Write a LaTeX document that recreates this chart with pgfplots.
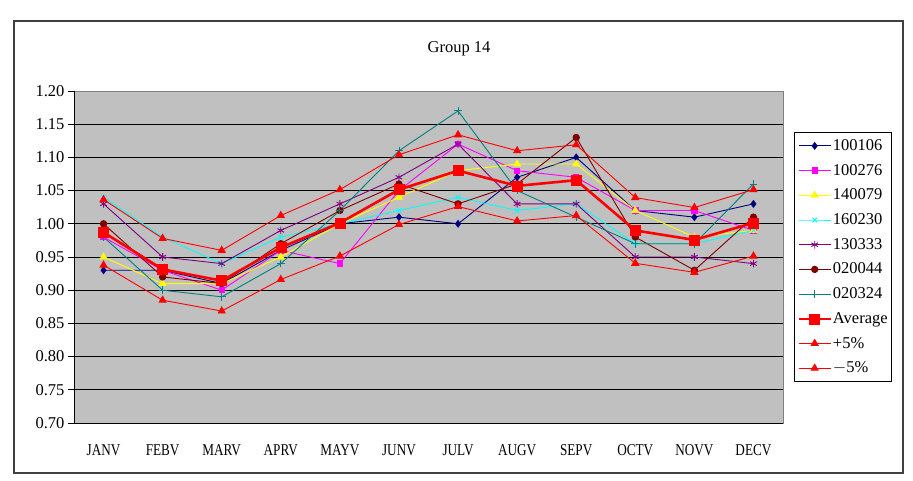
\documentclass[border=0pt]{standalone}
\usepackage{pgfplots}
\pgfplotsset{compat=1.18}
\usepackage{fontspec}
\setmainfont{Liberation Serif}
\definecolor{cnavy}{RGB}{0,0,128}
\definecolor{cmag}{RGB}{255,0,255}
\definecolor{cyel}{RGB}{255,255,0}
\definecolor{ccyan}{RGB}{0,255,255}
\definecolor{cpurple}{RGB}{128,0,128}
\definecolor{cdred}{RGB}{128,0,0}
\definecolor{cteal}{RGB}{0,128,128}
\definecolor{cred}{RGB}{255,0,0}
\definecolor{silverbg}{RGB}{192,192,192}
\newcommand{\cf}{\fontsize{16.5bp}{18bp}\selectfont}
\newcommand{\mo}[1]{\scalebox{0.8}[1]{#1}}
\begin{document}
\begin{tikzpicture}
\path[fill=white] (0,0) rectangle (913bp,481bp);
\draw[line width=1.2bp, black!75] (14bp,8bp) rectangle (903bp,460bp);
\node[font=\cf] at (459bp,432bp) {Group 14};
\begin{axis}[
  at={(74bp,58bp)}, anchor=south west,
  scale only axis, width=709bp, height=332bp,
  xmin=-0.5, xmax=11.5, ymin=0.70, ymax=1.20,
  axis background/.style={fill=silverbg},
  axis line style={draw=black!50, line width=0.8bp},
  ytick={0.70,0.75,...,1.21},
  ymajorgrids, major grid style={black, line width=0.8bp},
  ytick pos=left, tick align=outside,
  major tick length=6bp,
  yticklabel style={font=\cf, /pgf/number format/.cd, fixed, fixed zerofill, precision=2, assume math mode=true},
  xtick={0,...,11},
  xticklabels={\mo{JANV},\mo{FEBV},\mo{MARV},\mo{APRV},\mo{MAYV},\mo{JUNV},\mo{JULV},\mo{AUGV},\mo{SEPV},\mo{OCTV},\mo{NOVV},\mo{DECV}},
  xtick pos=bottom,
  x tick style={draw=none},
  xticklabel style={font=\cf, yshift=-12bp},
  minor xtick={-0.5,0.5,...,11.6},
  minor tick length=11bp,
  minor x tick style={black, line width=0.8bp, yshift=6bp},
  y tick style={black, line width=0.8bp},
  legend style={at={(1.0155,0.8765)}, anchor=north west, draw=black, line width=0.8bp, font=\cf,
    fill=white, inner xsep=3bp, inner ysep=5bp, row sep=7.7bp,
    nodes={inner sep=1bp, text height=12bp, text depth=3bp, anchor=west}},
  legend cell align=left,
  legend image code/.code={\draw[mark repeat=2,mark phase=2,#1] plot coordinates {(0bp,0bp) (16bp,0bp) (32bp,0bp)};},
  clip=false,
]
\draw[black, line width=0.9bp] (rel axis cs:0,1) -- (rel axis cs:0,0) -- (rel axis cs:1,0);
\addplot[color=cnavy, line width=0.9bp, mark=diamond*, mark size=3.3bp, mark options={fill=cnavy}] coordinates {
(0,0.93)(1,0.93)(2,0.91)(3,0.96)(4,1.00)(5,1.01)(6,1.00)(7,1.07)(8,1.10)(9,1.02)(10,1.01)(11,1.03)};
\addlegendentry{100106}
\addplot[color=cmag, line width=0.9bp, mark=square*, mark size=2.7bp, mark options={fill=cmag}] coordinates {
(0,0.98)(1,0.93)(2,0.90)(3,0.96)(4,0.94)(5,1.05)(6,1.12)(7,1.08)(8,1.07)(9,1.02)(10,1.02)(11,0.99)};
\addlegendentry{100276}
\addplot[color=cyel, line width=0.9bp, mark=triangle*, mark size=3.8bp, mark options={fill=cyel}] coordinates {
(0,0.95)(1,0.91)(2,0.91)(3,0.95)(4,1.00)(5,1.04)(6,1.08)(7,1.09)(8,1.09)(9,1.02)(10,0.98)(11,0.99)};
\addlegendentry{140079}
\addplot[color=ccyan, line width=0.9bp, mark=x, mark size=3.3bp] coordinates {
(0,1.04)(1,0.98)(2,0.94)(3,0.98)(4,1.00)(5,1.02)(6,1.04)(7,1.02)(8,1.03)(9,0.97)(10,0.97)(11,0.99)};
\addlegendentry{160230}
\addplot[color=cpurple, line width=0.9bp, mark=asterisk, mark size=3.8bp] coordinates {
(0,1.03)(1,0.95)(2,0.94)(3,0.99)(4,1.03)(5,1.07)(6,1.12)(7,1.03)(8,1.03)(9,0.95)(10,0.95)(11,0.94)};
\addlegendentry{130333}
\addplot[color=cdred, line width=0.9bp, mark=*, mark size=3.2bp, mark options={fill=cdred}] coordinates {
(0,1.00)(1,0.92)(2,0.91)(3,0.97)(4,1.02)(5,1.06)(6,1.03)(7,1.06)(8,1.13)(9,0.98)(10,0.93)(11,1.01)};
\addlegendentry{020044}
\addplot[color=cteal, line width=0.9bp, mark=+, mark size=3.8bp] coordinates {
(0,0.98)(1,0.90)(2,0.89)(3,0.94)(4,1.02)(5,1.11)(6,1.17)(7,1.05)(8,1.01)(9,0.97)(10,0.97)(11,1.06)};
\addlegendentry{020324}
\addplot[color=cred, line width=2.6bp, mark=square*, mark size=5bp, mark options={fill=cred, line width=0.5bp}] coordinates {
(0,0.9871)(1,0.9314)(2,0.9143)(3,0.9643)(4,1.0014)(5,1.0514)(6,1.0800)(7,1.0571)(8,1.0657)(9,0.9900)(10,0.9757)(11,1.0014)};
\addlegendentry{Average}
\addplot[color=cred, line width=0.9bp, mark=triangle*, mark size=4bp, mark options={fill=cred}] coordinates {
(0,1.0365)(1,0.9780)(2,0.9600)(3,1.0125)(4,1.0515)(5,1.1040)(6,1.1340)(7,1.1100)(8,1.1190)(9,1.0395)(10,1.0245)(11,1.0515)};
\addlegendentry{+5\%}
\addplot[color=cred, line width=0.9bp, mark=triangle*, mark size=4bp, mark options={fill=cred}] coordinates {
(0,0.9378)(1,0.8849)(2,0.8686)(3,0.9161)(4,0.9514)(5,0.9989)(6,1.0260)(7,1.0043)(8,1.0124)(9,0.9405)(10,0.9269)(11,0.9514)};
\addlegendentry{$-$5\%}
\end{axis}
\end{tikzpicture}
\end{document}
